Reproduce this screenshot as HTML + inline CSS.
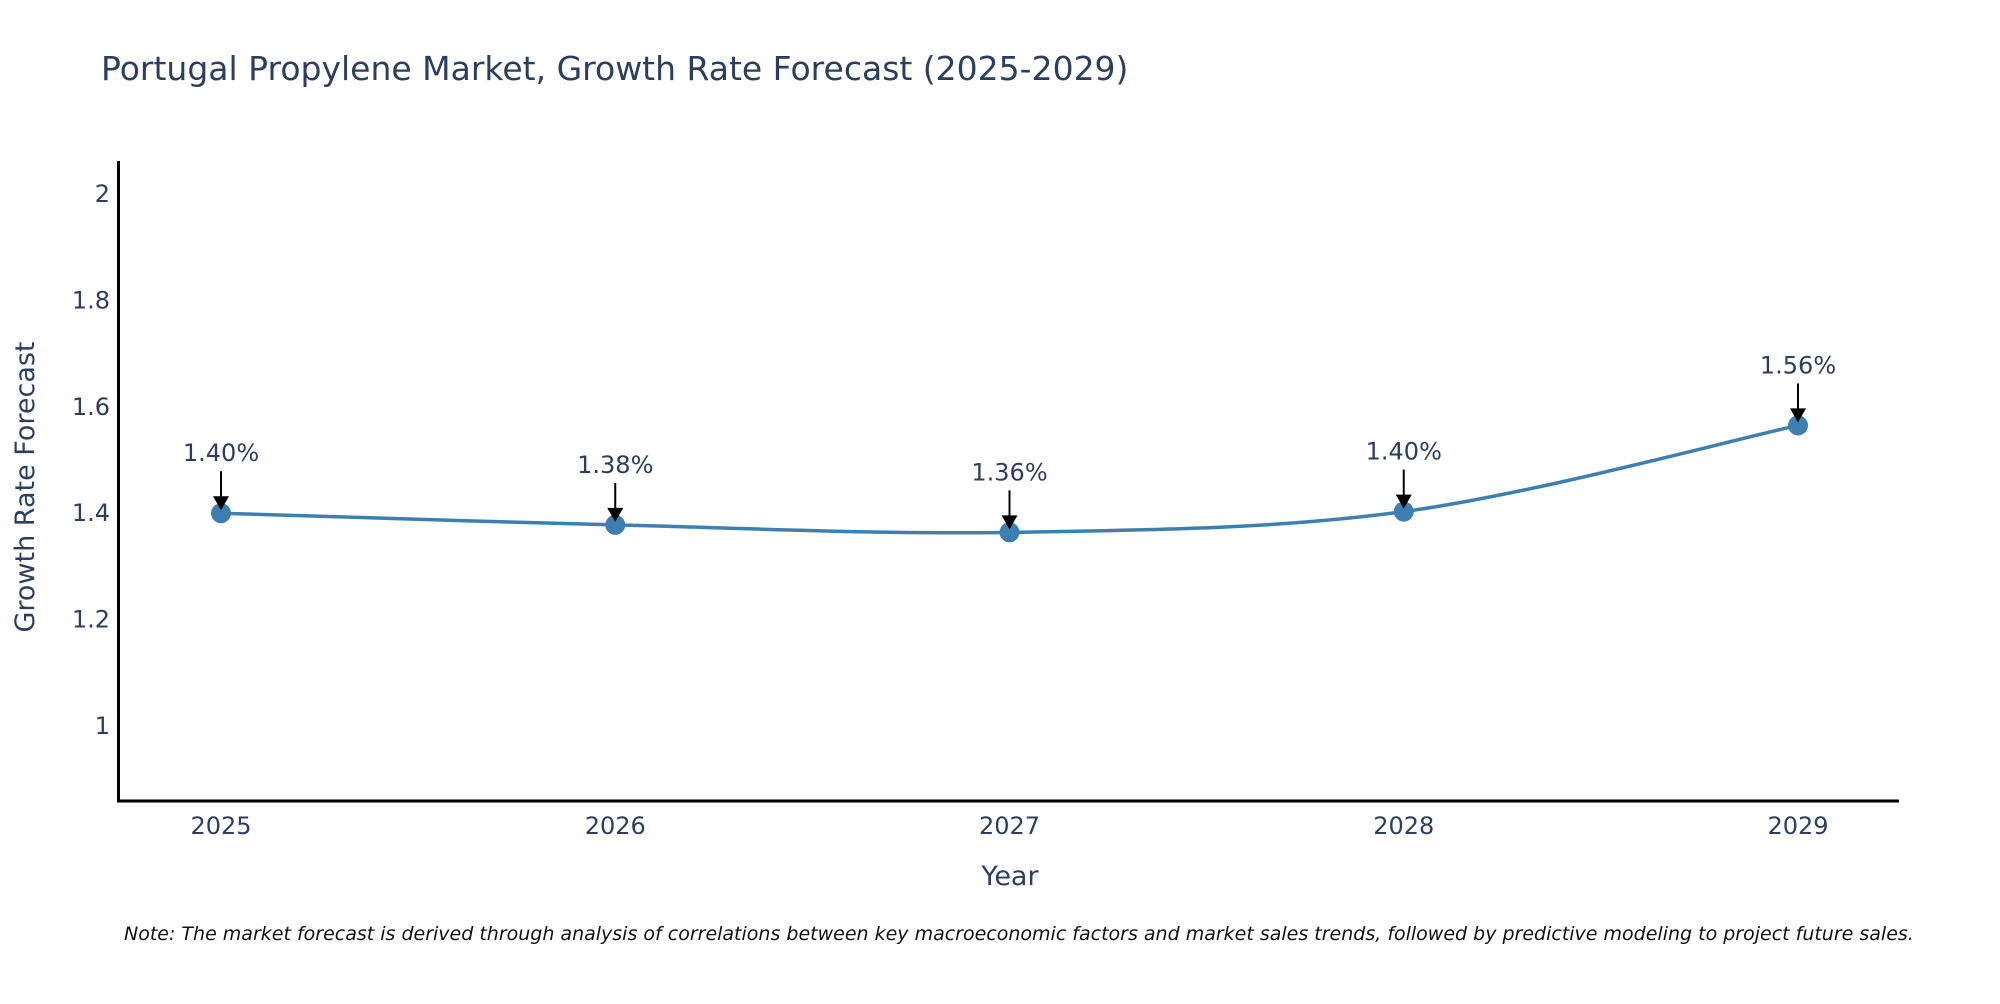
<!DOCTYPE html>
<html><head><meta charset="utf-8"><style>
body{margin:0;background:#fff;width:2000px;height:1000px;overflow:hidden;font-family:"DejaVu Sans",sans-serif}
</style></head><body>
<svg id="chart" width="2000" height="1000" xmlns="http://www.w3.org/2000/svg" font-family="DejaVu Sans, sans-serif">
<text x="101" y="80" font-size="33" fill="#2a3f5f">Portugal Propylene Market, Growth Rate Forecast (2025-2029)</text>
<g id="yticks"></g>
<g id="xticks"></g>
<line x1="118.5" y1="161" x2="118.5" y2="802" stroke="#000" stroke-width="3"/>
<line x1="117" y1="801" x2="1899" y2="801" stroke="#000" stroke-width="3"/>
<text transform="translate(34,487) rotate(-90)" text-anchor="middle" font-size="27" fill="#2a3f5f">Growth Rate Forecast</text>
<text x="1010" y="885" text-anchor="middle" font-size="27" fill="#2a3f5f">Year</text>
<g id="series"></g>
<text x="124" y="940" font-size="19" font-style="italic" fill="#111">Note: The market forecast is derived through analysis of correlations between key macroeconomic factors and market sales trends, followed by predictive modeling to project future sales.</text>
</svg>
<script>
const years = ["2025","2026","2027","2028","2029"];
const values = [1.40, 1.378, 1.364, 1.403, 1.565];
const labels = ["1.40%","1.38%","1.36%","1.40%","1.56%"];
const yTicks = [1, 1.2, 1.4, 1.6, 1.8, 2];
const yTickLabels = ["1","1.2","1.4","1.6","1.8","2"];
const NS="http://www.w3.org/2000/svg";
function X(i){return 221+i*(1798-221)/4;}
function Y(v){return 726-(v-1)*532;}
function mk(t,a,p){const e=document.createElementNS(NS,t);for(const k in a)e.setAttribute(k,a[k]);if(p)p.appendChild(e);return e;}
const yt=document.getElementById('yticks');
yTicks.forEach((v,i)=>{const t=mk('text',{x:110,y:Y(v)+8,'text-anchor':'end','font-size':24,fill:'#2a3f5f'},yt);


t.textContent=yTickLabels[i];});
const xt=document.getElementById('xticks');
years.forEach((y,i)=>{const t=mk('text',{x:X(i),y:834,'text-anchor':'middle','font-size':24,fill:'#2a3f5f'},xt);


t.textContent=y;});
const g=document.getElementById('series');
const pts=values.map((v,i)=>[X(i),Y(v)]);
let d=`M${pts[0][0]},${pts[0][1]}`;const s=0.5/3*2;
for(let i=0;i<pts.length-1;i++){const p0=pts[Math.max(i-1,0)],p1=pts[i],p2=pts[i+1],p3=pts[Math.min(i+2,pts.length-1)];
const c1=[p1[0]+(p2[0]-p0[0])*s/2,p1[1]+(p2[1]-p0[1])*s/2],c2=[p2[0]-(p3[0]-p1[0])*s/2,p2[1]-(p3[1]-p1[1])*s/2];
d+=` C${c1[0]},${c1[1]} ${c2[0]},${c2[1]} ${p2[0]},${p2[1]}`;}
const line=mk('path',{d:d,fill:'none',stroke:'#3d7fb0','stroke-width':3.5},g);


pts.forEach((p,i)=>{
const c=mk('circle',{cx:p[0],cy:p[1],r:10,fill:'#3d7fb0'},g);


const a=mk('line',{x1:p[0],y1:p[1]-42,x2:p[0],y2:p[1]-14,stroke:'#000','stroke-width':2},g);


const h=mk('polygon',{points:`${p[0]-8},${p[1]-17} ${p[0]+8},${p[1]-17} ${p[0]},${p[1]-3}`,fill:'#000'},g);


const t=mk('text',{x:p[0],y:p[1]-52,'text-anchor':'middle','font-size':24,fill:'#2a3f5f'},g);


t.textContent=labels[i];});
</script>
</body></html>
